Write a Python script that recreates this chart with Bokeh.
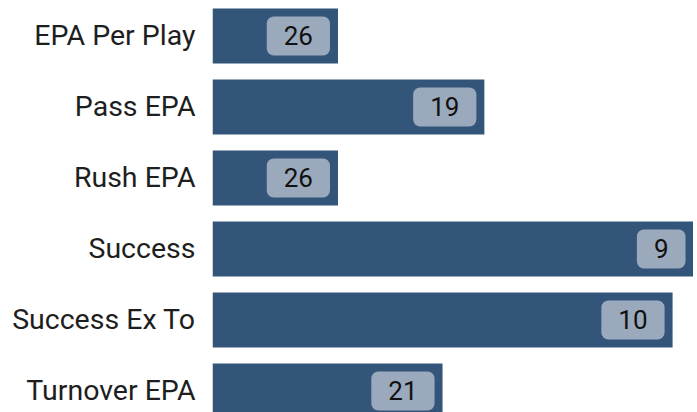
from bokeh.plotting import figure
from bokeh.models import ColumnDataSource, Range1d, FixedTicker
from bokeh.embed import file_html
from bokeh.resources import INLINE
from bokeh.core.properties import value

categories = ["EPA Per Play", "Pass EPA", "Rush EPA", "Success", "Success Ex To", "Turnover EPA"]
ranks = [26, 19, 26, 9, 10, 21]
bar_values = [6, 13, 6, 23, 22, 11]

n = len(categories)
ypos = [n - 1 - i for i in range(n)]

src = ColumnDataSource(dict(
    y=ypos, v=bar_values, r=[str(x) for x in ranks], cat=categories,
))

p = figure(width=693, height=412, output_backend="svg", toolbar_location=None,
           x_range=Range1d(0, 23.0), y_range=Range1d(-0.303, 5.5),
           min_border_left=212, min_border_right=0, min_border_top=0, min_border_bottom=0,
           x_axis_location=None)
p.outline_line_color = None
p.grid.visible = False
p.background_fill_color = "white"

p.hbar(y="y", left=0, right="v", height=0.775, source=src,
       fill_color="#34557a", line_color=None)

p.text(x="v", y="y", text="r", source=src, x_offset=-8,
       anchor="center_right", text_align="center", text_baseline="middle",
       text_font=value("Roboto"), text_font_size="26px", text_color="#111111",
       padding=[17, 17, 10, 10], border_radius=7,
       background_fill_color="#9aa9bc", border_line_color=None)

yax = p.yaxis[0]
yax.ticker = FixedTicker(ticks=ypos)
yax.major_label_overrides = {y: c for y, c in zip(ypos, categories)}
yax.axis_line_color = None
yax.major_tick_line_color = None
yax.minor_tick_line_color = None
yax.major_tick_out = 0
yax.major_tick_in = 0
yax.major_label_standoff = 17
yax.major_label_text_font = "Roboto"
yax.major_label_text_font_size = "28.5px"
yax.major_label_text_color = "#1e1e1e"

open("out.html", "w").write(file_html(p, INLINE))
